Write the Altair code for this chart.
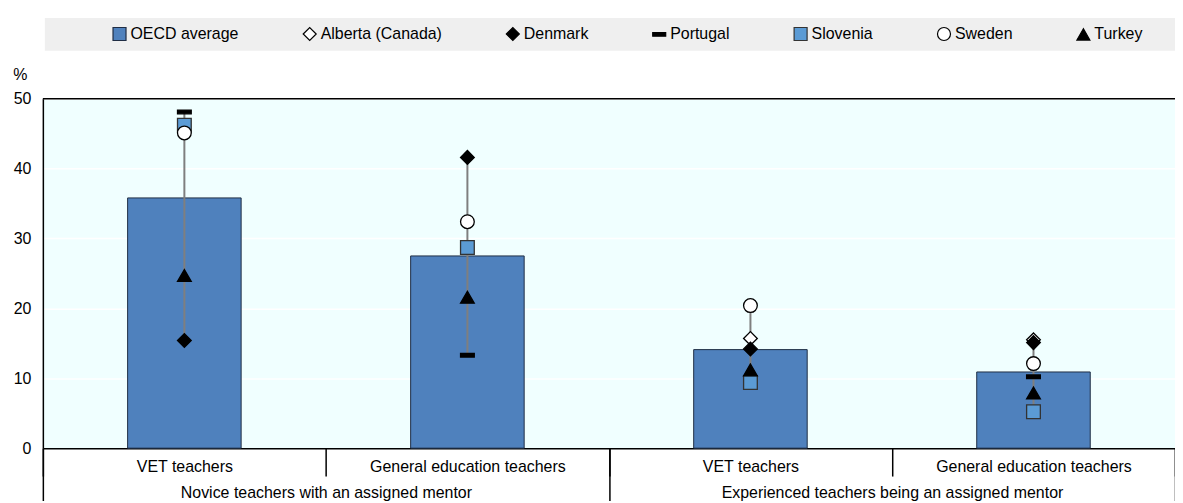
import altair as alt
import pandas as pd

# ---- data ----
groups = ["Novice teachers with an assigned mentor", "Novice teachers with an assigned mentor",
          "Experienced teachers being an assigned mentor", "Experienced teachers being an assigned mentor"]
subcats = ["VET teachers", "General education teachers", "VET teachers", "General education teachers"]
oecd_average = [35.8, 27.5, 14.1, 10.9]
alberta = [None, None, 15.7, 15.5]
denmark = [15.4, 41.6, 14.2, 15.1]
portugal = [48.1, 13.3, None, 10.2]
slovenia = [46.2, 28.7, 9.4, 5.2]
sweden = [45.1, 32.4, 20.4, 12.1]
turkey = [24.7, 21.6, 11.2, 7.9]

series_names = ["OECD average", "Alberta (Canada)", "Denmark", "Portugal", "Slovenia", "Sweden", "Turkey"]
y_ticks = [0, 10, 20, 30, 40, 50]

# ---- tables ----
keys = [f"{g} | {s}" for g, s in zip(groups, subcats)]
group_order = list(dict.fromkeys(groups))
bars_df = pd.DataFrame({"key": keys, "group": groups, "sub": subcats, "value": oecd_average})

country_values = {
    "Alberta (Canada)": alberta, "Denmark": denmark, "Portugal": portugal,
    "Slovenia": slovenia, "Sweden": sweden, "Turkey": turkey,
}
rows = []
for ci, (name, vals) in enumerate(country_values.items()):
    for k, v in zip(keys, vals):
        if v is not None:
            rows.append({"key": k, "country": name, "value": v, "order": ci})
points_df = pd.DataFrame(rows)
whisk_df = points_df.groupby("key", as_index=False).agg(lo=("value", "min"), hi=("value", "max"))

# ---- styles ----
FONT = "Liberation Sans"
W, H = 1137, 351
BAR_BLUE = "#4F81BD"
shapes = ["square", "diamond", "diamond", "M-1,-0.27L1,-0.27L1,0.27L-1,0.27Z", "square", "circle", "triangle-up"]
fills = [BAR_BLUE, "white", "black", "black", "#5B9BD5", "white", "black"]
strokes = ["#1F2D44", "black", "black", "black", "#333333", "black", "black"]

legend = alt.Legend(
    title=None, orient="none", legendX=69, legendY=-73, direction="horizontal",
    labelFontSize=16, labelFont=FONT, labelColor="black", symbolSize=170, labelLimit=0,
    symbolStrokeWidth=1.2, columnPadding=62, labelOffset=3, padding=0,
)

x_sub = alt.X(
    "key:N", sort=keys,
    scale=alt.Scale(domain=keys, paddingInner=0, paddingOuter=0),
    axis=alt.Axis(
        title=None, orient="bottom", labelAngle=0, labelLimit=0,
        labelExpr="split(datum.label, ' | ')[1]",
        tickBand="extent", tickSize=28, tickColor="black", tickWidth=1.5,
        domainColor="black", domainWidth=1.5, labelPadding=-18,
        labelFontSize=16, labelFont=FONT, labelColor="black", grid=False,
    ),
)

y_enc = alt.Y(
    "value:Q",
    scale=alt.Scale(domain=[0, 50], nice=False),
    axis=alt.Axis(
        values=y_ticks, title="%", titleAngle=0, titleX=-23, titleY=-24,
        titleAlign="center", titleBaseline="middle", titleFontWeight="normal",
        titleFontSize=16, titleFont=FONT, titleColor="black",
        grid=True, gridColor="white", gridWidth=1.5,
        domainColor="black", domainWidth=1.5, ticks=False, labelPadding=12,
        labelFontSize=16, labelFont=FONT, labelColor="black",
    ),
)

band = alt.Chart(bars_df).mark_rect(fill="#EFEFEF").encode(
    x=alt.value(2), x2=alt.value(W), y=alt.value(-81), y2=alt.value(-48)
).transform_filter("datum.key == '" + keys[0] + "'")

bars = alt.Chart(bars_df).mark_bar(size=114, fill=BAR_BLUE, stroke="#1F2D44", strokeWidth=1).encode(
    x=x_sub, y=y_enc
)

top_line = alt.Chart(pd.DataFrame({"v": [50]})).mark_rule(color="black", strokeWidth=1.5).encode(
    y=alt.Y("v:Q")
)

whiskers = alt.Chart(whisk_df).mark_rule(color="#7F7F7F", strokeWidth=2).encode(
    x=alt.X("key:N", sort=keys), y=alt.Y("lo:Q"), y2="hi:Q"
)

points = alt.Chart(points_df).mark_point(filled=True, opacity=1, size=190, strokeWidth=1.3).encode(
    x=alt.X("key:N", sort=keys),
    y=alt.Y("value:Q"),
    shape=alt.Shape("country:N", scale=alt.Scale(domain=series_names, range=shapes), legend=legend),
    fill=alt.Fill("country:N", scale=alt.Scale(domain=series_names, range=fills), legend=legend),
    stroke=alt.Stroke("country:N", scale=alt.Scale(domain=series_names, range=strokes), legend=legend),
    order=alt.Order("order:Q"),
)

main = alt.layer(band, bars, top_line, whiskers, points)

group_axis = alt.Chart(bars_df).mark_point(opacity=0).encode(
    x=alt.X(
        "group:N", sort=group_order,
        scale=alt.Scale(domain=group_order, paddingInner=0, paddingOuter=0),
        axis=alt.Axis(
            title=None, orient="bottom", labelAngle=0, tickBand="extent", labelLimit=0,
            tickSize=60, tickColor="black", tickWidth=1.5, domain=False,
            labelPadding=-23, labelFontSize=16, labelFont=FONT, labelColor="black", grid=False,
        ),
    ),
    y=alt.Y("value:Q"),
)

chart = alt.layer(main, group_axis).resolve_scale(x="independent").properties(
    width=W, height=H,
    autosize=alt.AutoSizeParams(type="none"),
    padding={"left": 35, "top": 90, "right": 0, "bottom": 52},
).configure_view(fill="#F0FFFF", stroke=None)

chart.save("out.html", embed_options={"renderer": "svg", "actions": False})
